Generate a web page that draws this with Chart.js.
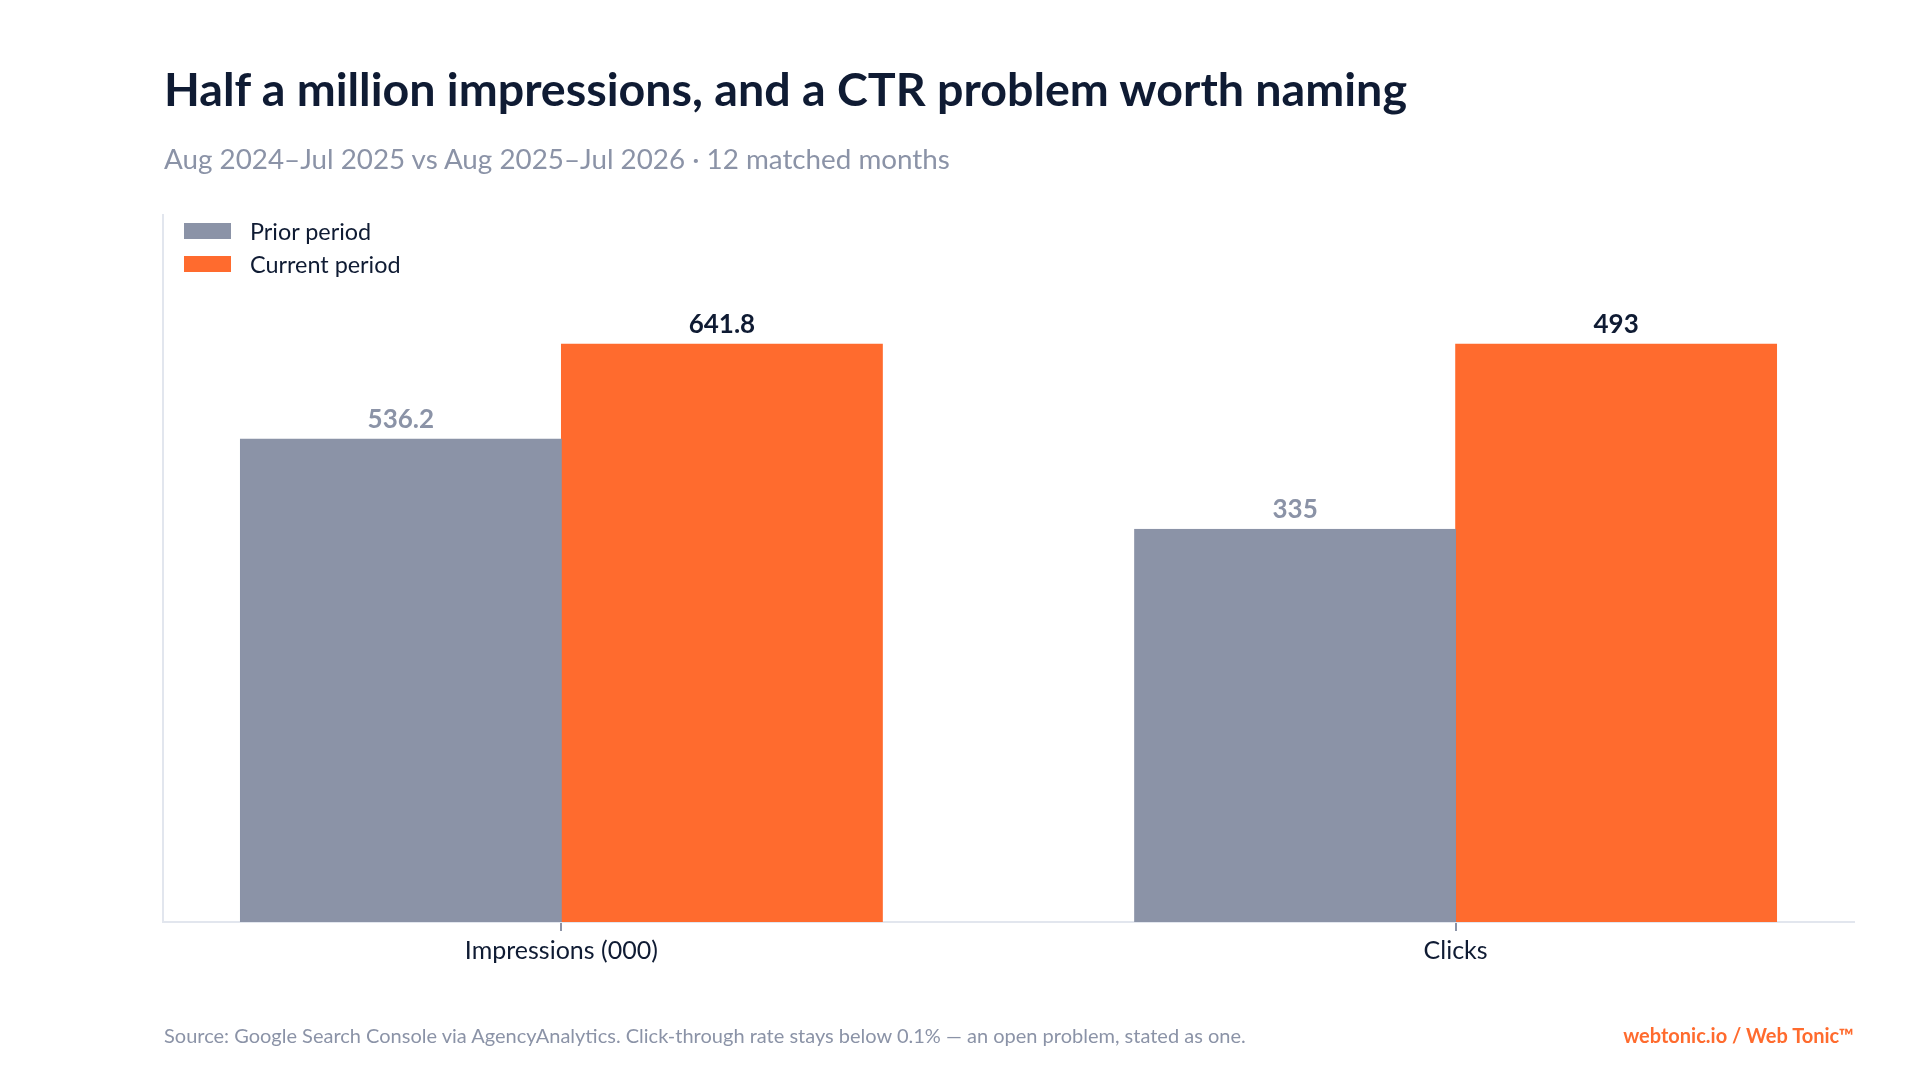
<!DOCTYPE html>
<html>
<head>
<meta charset="utf-8">
<script src="https://cdn.jsdelivr.net/npm/chart.js@4.4.1/dist/chart.umd.min.js"></script>
<style>
  html, body { margin: 0; padding: 0; background: #ffffff; }
  body { width: 1920px; height: 1080px; position: relative; overflow: hidden; font-family: Lato, sans-serif; }
  .title { position: absolute; left: 164px; top: 65px; font-size: 46.6px; line-height: 46.6px; font-weight: 700; color: #0f1b33; white-space: nowrap; }
  .subtitle { position: absolute; left: 164px; top: 145px; font-size: 27.8px; line-height: 27.8px; color: #8b93a7; white-space: nowrap; }
  .legend { position: absolute; left: 184px; top: 214px; }
  .legend-item { display: flex; align-items: center; height: 33px; font-size: 23.4px; color: #0f1b33; }
  .legend-swatch { width: 47px; height: 16px; margin-right: 19px; }
  .footer { position: absolute; top: 1025px; font-size: 20px; line-height: 20px; white-space: nowrap; }
  .source { left: 164px; color: #8b93a7; }
  .brand { right: 66px; color: #ff6b2e; font-weight: 700; }
  #chart-wrap { position: absolute; left: 0; top: 0; width: 1920px; height: 1080px; }
</style>
</head>
<body>
<div id="chart-wrap"><canvas id="chart" width="1920" height="1080"></canvas></div>
<div class="title">Half a million impressions, and a CTR problem worth naming</div>
<div class="subtitle">Aug 2024–Jul 2025 vs Aug 2025–Jul 2026 · 12 matched months</div>
<div class="legend" id="legend"></div>
<div class="footer source">Source: Google Search Console via AgencyAnalytics. Click-through rate stays below 0.1% — an open problem, stated as one.</div>
<div class="footer brand">webtonic.io / Web Tonic™</div>
<script>
const CATEGORIES = ['Impressions (000)', 'Clicks'];
const SERIES_NAMES = ['Prior period', 'Current period'];
const PRIOR = [536.2, 335];
const CURRENT = [641.8, 493];

const BAR_COLORS = ['#8b93a7', '#ff6b2e'];
const LABEL_COLORS = ['#8b93a7', '#0f1b33'];

// each category is drawn against its own largest value
function share(values) {
  return values.map((v, i) => ({ x: i, y: v / Math.max(PRIOR[i], CURRENT[i]) }));
}

const rawValues = [PRIOR, CURRENT];

const legend = document.getElementById('legend');
SERIES_NAMES.forEach((name, i) => {
  const item = document.createElement('div');
  item.className = 'legend-item';
  item.innerHTML = '<span class="legend-swatch" style="background:' + BAR_COLORS[i] + '"></span>' + name;
  legend.appendChild(item);
});

const valueLabels = {
  id: 'valueLabels',
  afterDatasetsDraw(chart) {
    const { ctx } = chart;
    chart.data.datasets.forEach((ds, di) => {
      chart.getDatasetMeta(di).data.forEach((bar, i) => {
        ctx.save();
        ctx.font = '700 26px Lato';
        ctx.fillStyle = LABEL_COLORS[di];
        ctx.textAlign = 'center';
        ctx.textBaseline = 'alphabetic';
        ctx.fillText(String(rawValues[di][i]), bar.x, bar.y - 11);
        ctx.restore();
      });
    });
  }
};

Chart.defaults.font.family = 'Lato';

function barDataset(i, values) {
  return {
    label: SERIES_NAMES[i],
    data: share(values),
    backgroundColor: BAR_COLORS[i],
    borderColor: BAR_COLORS[i],
    borderWidth: 1,
    borderSkipped: 'bottom',
    inflateAmount: 0.5
  };
}

// eslint-disable-next-line no-new
new Chart(document.getElementById('chart'), {
  type: 'bar',
  data: {
    datasets: [barDataset(0, PRIOR), barDataset(1, CURRENT)]
  },
  options: {
    responsive: false,
    animation: false,
    maintainAspectRatio: false,
    devicePixelRatio: 1,
    categoryPercentage: 0.718,
    barPercentage: 1,
    layout: {
      padding: { left: 163, right: 66, top: 215, bottom: 109 }
    },
    plugins: {
      legend: { display: false },
      tooltip: { enabled: false }
    },
    scales: {
      x: {
        type: 'linear',
        offset: false,
        bounds: 'data',
        min: -0.4455,
        max: 1.4455,
        afterBuildTicks: scale => {
          scale.ticks = CATEGORIES.map((_, i) => ({ value: i }));
        },
        grid: {
          offset: false,
          drawOnChartArea: false,
          drawTicks: true,
          tickLength: 9,
          color: '#8b93a7',
          lineWidth: 2
        },
        border: { display: true, color: '#e2e6ee', width: 2 },
        ticks: {
          padding: 5,
          color: '#0f1b33',
          font: { size: 25 },
          maxRotation: 0,
          autoSkip: false,
          callback: value => CATEGORIES[value]
        }
      },
      y: {
        min: 0,
        max: 1.2232,
        grid: { display: false, drawTicks: false },
        border: { display: true, color: '#e2e6ee', width: 2 },
        ticks: { display: false }
      }
    }
  },
  plugins: [valueLabels]
});
</script>
</body>
</html>
